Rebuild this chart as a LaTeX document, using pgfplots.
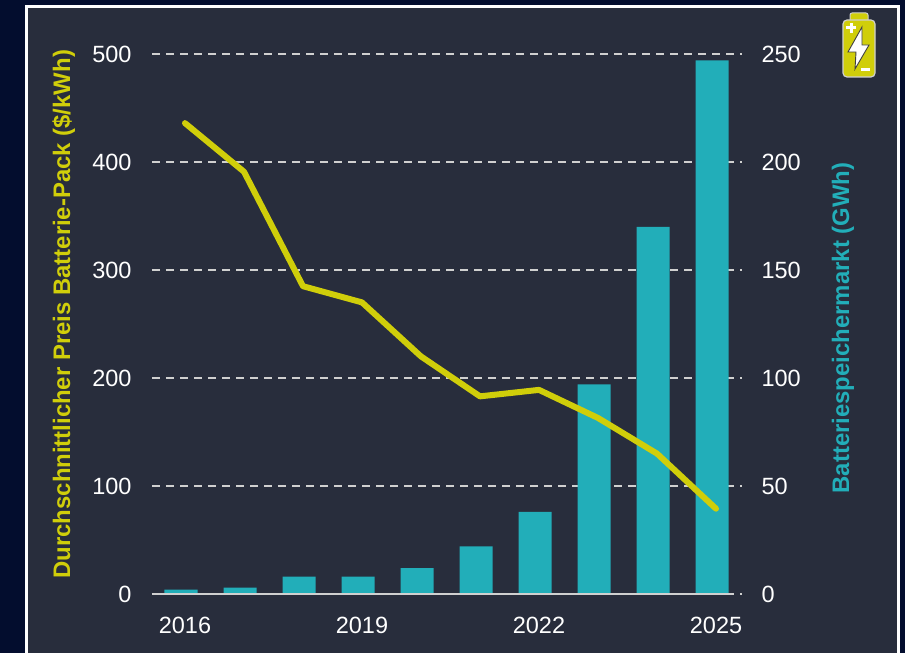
\documentclass[border=0pt]{standalone}
\usepackage{fontspec}
\setmainfont{Liberation Sans}
\usepackage{pgfplots}
\pgfplotsset{compat=1.18}
\definecolor{navy}{HTML}{030D2E}
\definecolor{panel}{HTML}{282D3C}
\definecolor{lime}{HTML}{D0CE0A}
\definecolor{teal}{HTML}{22AEB9}
\definecolor{axisgray}{HTML}{D0D0D0}
\begin{document}
\begin{tikzpicture}[x=1pt,y=1pt]
% page = 905x653, axis corner sits at pixel (152,594)
\useasboundingbox (-152,-59) rectangle (753,594);
\fill[navy] (-152,-59) rectangle (753,594);
\fill[panel,draw=white,line width=3pt] (-125.5,-70) rectangle (746,587);
% bars and grid first, 10pt wider so the dashes run past the baseline
\begin{axis}[
  at={(0,0)}, anchor=south west,
  scale only axis, width=590pt, height=540pt,
  xmin=-0.4915, xmax=9.508, ymin=0, ymax=250,
  axis x line=none,
  axis y line*=right, axis line style={draw=none},
  ytick={0,50,...,250},
  major tick length=0pt,
  ymajorgrids, grid style={axisgray,line width=2pt,dash pattern=on 8pt off 6pt},
  ylabel={Batteriespeichermarkt (GWh)},
  ylabel style={font=\fontsize{23.9}{28}\selectfont\bfseries,text=teal,
    at={(axis description cs:1.171,0.4926)},anchor=center},
  yticklabel style={font=\fontsize{23.5}{27}\selectfont,text=white,xshift=16pt},
  /pgf/number format/assume math mode=true,
  clip=false]
\addplot[ybar,bar width=33pt,fill=teal,draw=none] coordinates
  {(0,2)(1,3)(2,8)(3,8)(4,12)(5,22)(6,38)(7,97)(8,170)(9,247)};
\end{axis}
\begin{axis}[
  at={(0,0)}, anchor=south west,
  scale only axis, width=580pt, height=540pt,
  xmin=-0.559, xmax=9.271, ymin=0, ymax=500,
  axis y line*=left, axis x line*=bottom,
  y axis line style={draw=none},
  x axis line style={draw=axisgray,line width=2pt,-},
  xtick={0,3,6,9}, xticklabels={2016,2019,2022,2025},
  ytick={0,100,...,500},
  major tick length=0pt,
  xticklabel style={font=\fontsize{23.5}{27}\selectfont,text=white,yshift=-20pt},
  yticklabel style={font=\fontsize{23.5}{27}\selectfont,text=white,xshift=-17pt},
  /pgf/number format/assume math mode=true,
  ylabel={Durchschnittlicher Preis Batterie-Pack (\$/kWh)},
  ylabel style={font=\fontsize{23.9}{28}\selectfont\bfseries,text=lime,
    at={(axis description cs:-0.152,0.518)},anchor=center},
  clip=false]
\addplot[lime,line width=6pt,line join=round,line cap=round] coordinates
  {(0,436)(1,391)(2,285)(3,270)(4,220)(5,183)(6,189)(7,163)(8,130)(9,79)};
\end{axis}
% battery icon
\fill[lime,draw=axisgray,line width=1pt,rounded corners=2pt] (698,570) rectangle (716,581);
\fill[lime,draw=axisgray,line width=1.2pt,rounded corners=4pt] (691,517) rectangle (723,574);
\fill[white,draw=black!75,line width=0.9pt] (710,567) -- (696,542) -- (704,542) -- (703,525) -- (717,549) -- (710,549) -- cycle;
\fill[white] (694,564.5) rectangle (704,567.5);
\fill[white] (697.5,561) rectangle (700.5,571);
\fill[white] (708.5,522.5) rectangle (717.5,525.5);
\end{tikzpicture}
\end{document}
